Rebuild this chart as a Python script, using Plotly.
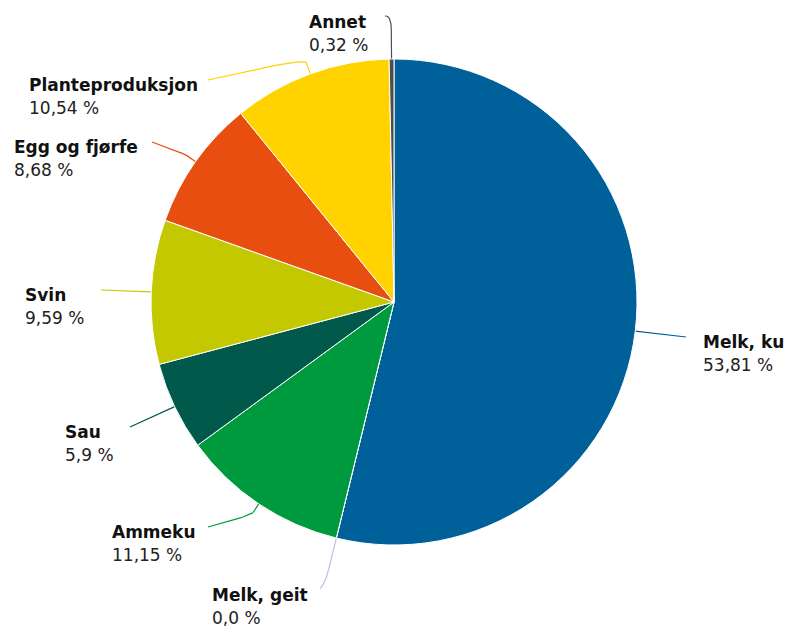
import math
import plotly.graph_objects as go

# ---- data ----
categories = ["Melk, ku", "Melk, geit", "Ammeku", "Sau", "Svin", "Egg og fjørfe", "Planteproduksjon", "Annet"]
values = [53.81, 0.0, 11.15, 5.9, 9.59, 8.68, 10.54, 0.32]
value_labels = ["53,81 %", "0,0 %", "11,15 %", "5,9 %", "9,59 %", "8,68 %", "10,54 %", "0,32 %"]

# ---- style / layout ----
colors = ["#00609a", "#b4c5df", "#009a3e", "#00594b", "#c3c800", "#e84e0f", "#ffd200", "#4d4d4d"]
W, H = 785, 628
CX, CY, R = 394, 302, 243
# label position (x of left edge, y of name line centre) and connector anchor
label_xy = [(701, 342), (210, 595), (110, 532), (63, 432), (23, 295), (12, 147), (27, 85), (307, 22)]
anchor_xy = [(686, 337), (320, 589), (208, 527), (130, 427), (101, 290), (152, 142), (208, 80), (385, 16)]
break_dist = [10, 32, 10, 8, 5, 10, 12, 30]
LINE_GAP = 23
FONT = "DejaVu Sans"
FS = 17

fig = go.Figure()

fig.add_trace(go.Pie(
    labels=categories, values=values, sort=False, direction="clockwise", rotation=0,
    marker=dict(colors=colors, line=dict(color="white", width=1)),
    textinfo="none", hoverinfo="label+percent", showlegend=False,
    domain=dict(x=[(CX - R) / W, (CX + R) / W], y=[(H - CY - R) / H, (H - CY + R) / H]),
))

total = sum(values)
cum = 0.0
for i, (cat, v) in enumerate(zip(categories, values)):
    mid = (cum + v / 2) / total * 2 * math.pi
    cum += v
    dx, dy = math.sin(mid), -math.cos(mid)
    tx, ty = CX + R * dx, CY + R * dy
    bx, by = CX + (R + break_dist[i]) * dx, CY + (R + break_dist[i]) * dy
    ax, ay = anchor_xy[i]
    c2x, c2y = bx + 0.5 * (bx - tx), by + 0.5 * (by - ty)
    xs, ys = [], []
    n = 30
    for k in range(n + 1):
        t = k / n
        a = (1 - t) ** 3
        b = 3 * (1 - t) ** 2 * t
        c = 3 * (1 - t) * t ** 2
        d = t ** 3
        xs.append(a * ax + b * ax + c * c2x + d * bx)
        ys.append(a * ay + b * ay + c * c2y + d * by)
    xs.append(tx)
    ys.append(ty)
    fig.add_trace(go.Scatter(x=xs, y=ys, mode="lines", line=dict(color=colors[i], width=1.2),
                             hoverinfo="skip", showlegend=False))
    lx, ly = label_xy[i]
    fig.add_annotation(x=lx, y=ly, xref="x", yref="y", text="<b>" + cat + "</b>", showarrow=False,
                       xanchor="left", yanchor="middle", font=dict(family=FONT, size=FS, color="#111111"))
    fig.add_annotation(x=lx, y=ly + LINE_GAP, xref="x", yref="y", text=value_labels[i], showarrow=False,
                       xanchor="left", yanchor="middle", font=dict(family=FONT, size=FS, color="#222222"))

fig.update_layout(
    width=W, height=H, margin=dict(l=0, r=0, t=0, b=0),
    paper_bgcolor="white", plot_bgcolor="rgba(0,0,0,0)",
    xaxis=dict(range=[0, W], visible=False, fixedrange=True, domain=[0, 1]),
    yaxis=dict(range=[H, 0], visible=False, fixedrange=True, domain=[0, 1]),
)

fig.write_html("out.html", config={"displayModeBar": False},
               post_script="document.body.style.margin='0';document.body.style.overflow='hidden';")
